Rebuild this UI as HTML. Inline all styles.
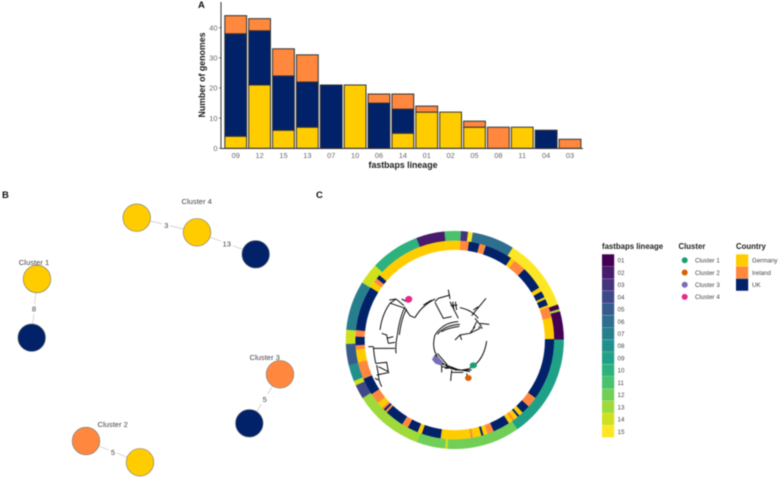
<!DOCTYPE html>
<html lang="en">
<head>
<meta charset="utf-8">
<title>fastbaps lineage figure</title>
<style>
html,body{margin:0;padding:0;background:#fff;}
svg{display:block;filter:blur(0.5px);font-family:"Liberation Sans",sans-serif;}
.panel{font-size:9.5px;font-weight:bold;fill:#111;}
.axt{font-size:8.8px;font-weight:bold;fill:#1a1a1a;}
.tick{font-size:7.4px;fill:#666;}
.lt{font-size:7.8px;font-weight:bold;fill:#222;}
.ll{font-size:6.2px;fill:#444;}
.cl{font-size:7.6px;fill:#444;text-anchor:middle;}
.el{font-size:7.6px;fill:#444;text-anchor:middle;}
.edge{stroke:#cfcfcf;stroke-width:.8;}
.node{stroke:#777;stroke-width:.6;}
.tree path{fill:none;stroke:#111;stroke-width:3;}
</style>
</head>
<body>
<svg id="fig" xmlns="http://www.w3.org/2000/svg" width="779" height="479" viewBox="0 0 779 479">
  <rect width="779" height="479" fill="#fff"/>

  <text class="panel" x="198" y="8">A</text>
  <text class="panel" x="2" y="198">B</text>
  <text class="panel" x="316" y="198">C</text>

  <g id="barChart">
    <line x1="221" y1="2" x2="221" y2="148.5" stroke="#333" stroke-width="1"/>
    <line x1="221" y1="148.5" x2="583" y2="148.5" stroke="#333" stroke-width="1"/>
    <text class="axt" transform="translate(205,75) rotate(-90)" text-anchor="middle">Number of genomes</text>
    <text class="axt" x="403" y="168" text-anchor="middle">fastbaps lineage</text>
  </g>

  <g>
    <line class="edge" x1="136.7" y1="217.7" x2="197" y2="232.3"/>
    <line class="edge" x1="197" y1="232.3" x2="255.7" y2="254.3"/>
    <line class="edge" x1="37" y1="279" x2="31.7" y2="337.7"/>
    <line class="edge" x1="280" y1="374.3" x2="249.3" y2="423.3"/>
    <line class="edge" x1="86" y1="441" x2="140" y2="462.3"/>
    <rect x="162" y="220" width="8" height="10" fill="#fff"/>
    <rect x="221" y="239" width="12" height="10" fill="#fff"/>
    <rect x="30" y="304" width="8" height="10" fill="#fff"/>
    <rect x="261" y="394" width="8" height="10" fill="#fff"/>
    <rect x="109" y="447" width="8" height="10" fill="#fff"/>
    <circle class="node" cx="136.7" cy="217.7" r="13.8" fill="#FFCC00"/>
    <circle class="node" cx="197" cy="232.3" r="13.8" fill="#FFCC00"/>
    <circle class="node" cx="255.7" cy="254.3" r="13.8" fill="#012169" stroke="#012169"/>
    <circle class="node" cx="37" cy="279" r="13.8" fill="#FFCC00"/>
    <circle class="node" cx="31.7" cy="337.7" r="13.8" fill="#012169" stroke="#012169"/>
    <circle class="node" cx="280" cy="374.3" r="13.8" fill="#FF883E"/>
    <circle class="node" cx="249.3" cy="423.3" r="13.8" fill="#012169" stroke="#012169"/>
    <circle class="node" cx="86" cy="441" r="13.8" fill="#FF883E"/>
    <circle class="node" cx="140" cy="462.3" r="13.8" fill="#FFCC00"/>
    <text class="cl" x="196.7" y="204">Cluster 4</text>
    <text class="cl" x="34" y="265">Cluster 1</text>
    <text class="cl" x="264.7" y="360">Cluster 3</text>
    <text class="cl" x="112.7" y="427">Cluster 2</text>
    <text class="el" x="166.3" y="228">3</text>
    <text class="el" x="226.7" y="246.5">13</text>
    <text class="el" x="34" y="311.5">8</text>
    <text class="el" x="264.7" y="402">5</text>
    <text class="el" x="113" y="455">5</text>
  </g>

  <g id="rings"></g>

  <g class="tree" transform="translate(360,285) scale(.3333)">
    <path d="M60,135 Q66,88 90,55 L108,42 M88,45 L108,42 L132,62 M125,42 L140,50 M92,55 L135,70 M135,65 Q118,100 112,150 M140,72 Q124,100 118,150 M135,70 L150,92 L165,98 M112,150 Q106,180 108,205 M65,145 L80,150 L85,175 M80,160 L100,155 M85,175 L105,172 M25,185 L40,185 M40,185 Q42,210 47,235 M40,190 L105,190 M47,235 L80,232 L85,260 M50,240 Q52,255 55,265 M55,245 L85,260 M50,270 L88,262 M55,265 Q55,285 65,305 M55,285 L45,280"/>
    <path d="M165,98 Q185,62 225,42 M190,60 L215,45 M225,50 L235,40 L270,30 M265,14 L270,42 M225,52 L250,100 L275,95 M270,50 L295,100 M278,50 L282,75 M286,50 L290,75 M272,62 L292,60"/>
    <path d="M300,118 Q255,120 232,148 M295,110 Q250,112 225,150 Q212,195 240,225 Q275,268 330,250 Q372,226 380,168 M298,124 Q265,128 245,140"/>
    <path d="M285,165 L300,150 L305,165 M300,150 L330,145 L360,130 M330,145 L345,125 M300,68 Q335,75 355,100 M335,92 L378,40 M340,75 L355,65 M345,100 L365,125 M360,115 L388,118 M350,110 L340,130 M355,125 L368,130"/>
    <path d="M225,210 L250,240 M232,205 L262,240 M245,232 L245,262 M245,245 L330,260 M255,250 L280,248 M275,255 L272,288 M275,262 L310,262 M320,265 L325,285 M285,255 L335,255 M258,240 L300,256"/>
    <ellipse cx="146" cy="43" rx="11" ry="10" fill="#E7298A" stroke="none" transform="rotate(-25 146 43)"/>
    <ellipse cx="340" cy="241" rx="11" ry="9" fill="#1B9E77" stroke="none"/>
    <ellipse cx="325" cy="279" rx="10" ry="9" fill="#D95F02" stroke="none"/>
    <polygon points="222,212 236,216 250,232 244,242 226,236 216,224" fill="#7570B3"/>
  </g>

  <g id="legends">
    <text class="lt" x="602" y="249">fastbaps lineage</text>
    <text class="lt" x="678.5" y="249">Cluster</text>
    <text class="lt" x="736" y="249">Country</text>
  </g>
</svg>
<script>
var lineages = ["09","12","15","13","07","10","06","14","01","02","05","08","11","04","03"];
var germanyCounts = [4,21,6,7,0,21,0,5,12,12,7,0,7,0,0];
var ukCounts = [34,18,18,15,21,0,15,8,0,0,0,0,0,6,0];
var irelandCounts = [6,4,9,9,0,0,3,5,2,0,2,7,0,0,3];
var yTicks = [0,10,20,30,40];

var lineageKeys = ["01","02","03","04","05","06","07","08","09","10","11","12","13","14","15"];
var lineageColors = ["#440154","#481B6D","#46337E","#3F4889","#365C8D","#2E6E8E","#277F8E","#21908C","#1FA187","#2DB27D","#4AC16D","#71CF57","#9FDA3A","#CFE11C","#FDE725"];
var clusterNames = ["Cluster 1","Cluster 2","Cluster 3","Cluster 4"];
var clusterColors = ["#1B9E77","#D95F02","#7570B3","#E7298A"];
var countryNames = ["Germany","Ireland","UK"];
var countryColors = ["#FFCC00","#FF883E","#012169"];

/* Tip runs around the ring, clockwise */
var ringLineageIds = ["11","03","15","06","15","01","13","01","09","12","14","12","13","04","14","08","05","14","07","14","10","02"];
var ringLineageCounts = [7,3,2,18,31,2,1,12,44,31,1,12,30,6,2,7,9,6,21,9,21,12];
var ringCountryIds = ["G","I","U","I","U","G","I","U","G","U","G","U","G","I","G","U","I","U","G","U","G","I","G","U","I","G","U","G","I","G","U","G","U","I","U","I","U","I","G","I","U","I","G","I","U","I","U","G","I","U","G"];
var ringCountryCounts = [7,4,5,3,13,2,6,11,2,3,1,3,1,5,10,29,5,4,2,1,2,1,2,8,3,2,1,4,1,14,9,2,5,3,9,1,1,1,3,5,8,8,6,2,4,3,21,3,2,2,35];

var NS = "http://www.w3.org/2000/svg";
function make(tag, parent, props) {
  var n = document.createElementNS(NS, tag);
  for (var k in props) { n.setAttribute(k, props[k]); }
  parent.appendChild(n);
  return n;
}

/* Bar chart axes */
var barG = document.getElementById("barChart");
var xBase = 235.7, xStep = 23.88, barW = 21.8, yBase = 148.3, yUnit = 3.015;
function xPos(i) { return xBase + i * xStep; }
function yPos(v) { return yBase - v * yUnit; }

yTicks.forEach(function (t) {
  var tickMark = make("line", barG, {x1: 219, x2: 221, y1: yPos(t), y2: yPos(t), stroke: "#333", "stroke-width": .7});
  
  
  var tickLabel = make("text", barG, {x: 217.5, y: yPos(t) + 2.6, "text-anchor": "end", "class": "tick"});
  
  
  tickLabel.textContent = t;
});

lineages.forEach(function (name, i) {
  var stacks = [[germanyCounts[i], countryColors[0]], [ukCounts[i], countryColors[2]], [irelandCounts[i], countryColors[1]]];
  var running = 0;
  stacks.forEach(function (s) {
    if (s[0] <= 0) { return; }
    var bar = make("rect", barG, {x: xPos(i) - barW / 2, y: yPos(running + s[0]), width: barW, height: s[0] * yUnit, fill: s[1], stroke: "#333", "stroke-width": 1});
    
    
    running += s[0];
  });
  var label = make("text", barG, {x: xPos(i), y: 158, "text-anchor": "middle", "class": "tick"});
  
  
  label.textContent = name;
});

/* Rings */
var ringG = document.getElementById("rings");
var cx = 454.8, cy = 340, startDeg = -5.5;
function polar(r, deg) {
  var a = deg * Math.PI / 180;
  return [cx + r * Math.sin(a), cy - r * Math.cos(a)];
}
function sector(r0, r1, a0, a1) {
  var large = (a1 - a0) > 180 ? 1 : 0;
  var p0 = polar(r1, a0), p1 = polar(r1, a1), p2 = polar(r0, a1), p3 = polar(r0, a0);
  return "M" + p0[0] + "," + p0[1] + " A" + r1 + "," + r1 + " 0 " + large + " 1 " + p1[0] + "," + p1[1] +
         " L" + p2[0] + "," + p2[1] + " A" + r0 + "," + r0 + " 0 " + large + " 0 " + p3[0] + "," + p3[1] + " Z";
}
function total(arr) { return arr.reduce(function (a, b) { return a + b; }, 0); }

var lineageScale = 360 / total(ringLineageCounts);
var lineageAngle = startDeg;
ringLineageIds.forEach(function (id, i) {
  var span = ringLineageCounts[i] * lineageScale;
  var col = lineageColors[lineageKeys.indexOf(id)];
  var seg = make("path", ringG, {d: sector(99.3, 109, lineageAngle, lineageAngle + span), fill: col, stroke: col, "stroke-width": .15});
  
  
  lineageAngle += span;
});

var countryScale = 360 / total(ringCountryCounts);
var countryAngle = startDeg;
ringCountryIds.forEach(function (id, i) {
  var span = ringCountryCounts[i] * countryScale;
  var col = countryColors["GIU".indexOf(id)];
  var seg = make("path", ringG, {d: sector(90.2, 99.3, countryAngle, countryAngle + span), fill: col, stroke: col, "stroke-width": .15});
  
  
  countryAngle += span;
});

/* Legends */
var legG = document.getElementById("legends");
lineageKeys.forEach(function (k, i) {
  var y = 254.3 + i * 12.22;
  var sw = make("rect", legG, {x: 602, y: y, width: 12.2, height: 12, fill: lineageColors[i]});
  
  
  var tx = make("text", legG, {x: 617.5, y: y + 8.4, "class": "ll"});
  
  
  tx.textContent = k;
});
clusterNames.forEach(function (k, i) {
  var y = 260.3 + i * 12.2;
  var dot = make("circle", legG, {cx: 684.7, cy: y, r: 3, fill: clusterColors[i]});
  
  
  var tx = make("text", legG, {x: 695, y: y + 2.3, "class": "ll"});
  
  
  tx.textContent = k;
});
countryNames.forEach(function (k, i) {
  var y = 254.3 + i * 12.22;
  var sw = make("rect", legG, {x: 736, y: y, width: 12.2, height: 12, fill: countryColors[i]});
  
  
  var tx = make("text", legG, {x: 752, y: y + 8.4, "class": "ll"});
  
  
  tx.textContent = k;
});
</script>
</body>
</html>
